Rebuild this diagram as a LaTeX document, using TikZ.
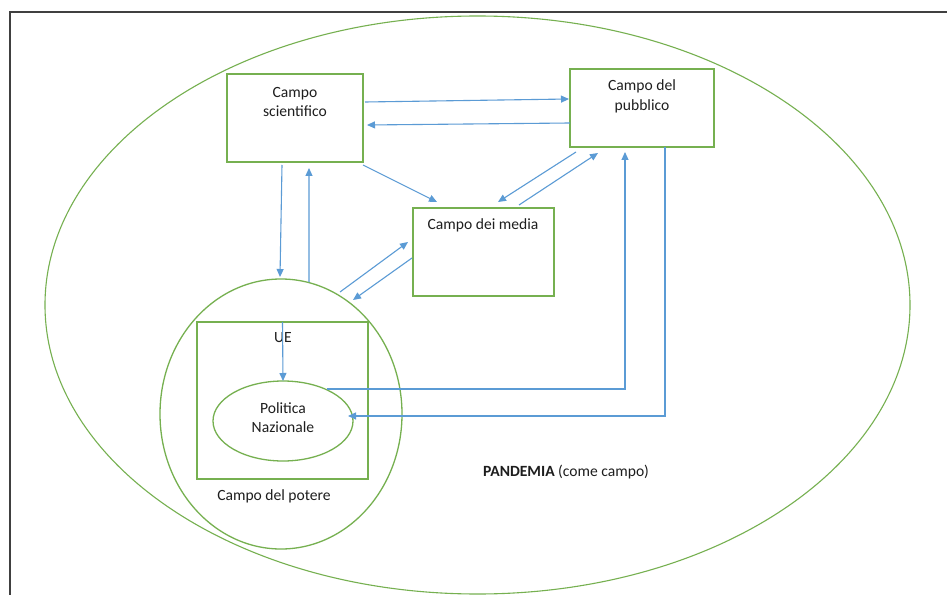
\documentclass[tikz,border=0pt]{standalone}
\usepackage{fontspec}
\setmainfont{Carlito}
\usetikzlibrary{shapes.geometric,arrows.meta,calc}
\definecolor{fgreen}{RGB}{118,176,80}
\definecolor{fblue}{RGB}{91,155,213}
\definecolor{framegray}{RGB}{64,64,64}
\definecolor{ink}{RGB}{30,30,30}
\begin{document}
\begin{tikzpicture}[x=1bp,y=-1bp,
  field/.style={draw=fgreen, line width=1.3bp, inner sep=0pt, outer sep=0pt},
  fieldbox/.style={field, rectangle},
  fieldoval/.style={field, ellipse},
  lbl/.style={text=ink, font=\fontsize{15.6bp}{19.5bp}\selectfont, align=center, inner sep=0pt},
  flow/.style={draw=fblue, line width=1.1bp, -{Triangle[length=8bp,width=7bp]}},
]
\useasboundingbox (0,0) rectangle (947,595);
\fill[white] (0,0) rectangle (947,595);
\draw[draw=framegray, line width=1.3bp] (947,12) -- (10,12) -- (10,595);

% outer field
\node[fieldoval, line width=1.1bp, minimum width=865bp, minimum height=578bp] (pandemia) at (477.5,305) {};

% boxes
\node[fieldbox, minimum width=136bp, minimum height=88bp] (sci) at (295,118) {};
\node[fieldbox, minimum width=144bp, minimum height=78bp] (pub) at (642,108) {};
\node[fieldbox, minimum width=141bp, minimum height=88bp] (media) at (483.5,252) {};
\node[fieldoval, minimum width=242bp, minimum height=270bp] (power) at (281,414) {};
\node[fieldbox, minimum width=171bp, minimum height=157bp] (ue) at (282.5,400.5) {};
\node[fieldoval, minimum width=140bp, minimum height=80bp] (pol) at (283,421) {};

% labels
\node[lbl] (sciT) at (295,102) {Campo\\scientifico};
\node[lbl] (pubT) at (642,96.5) {Campo del\\pubblico};
\node[lbl] (mediaT) at (483,225) {Campo dei media};
\node[lbl] (ueT) at (283,338) {UE};
\node[lbl] (polT) at (283,417.5) {Politica\\Nazionale};
\node[lbl] (powerT) at (274,496) {Campo del potere};
\node[lbl] (pandT) at (566,472) {\textbf{PANDEMIA} (come campo)};

% connectors
\draw[flow] ($(sci.north east)+(2,28)$) -- ($(pub.north west)+(-1,30)$);
\draw[flow] ($(pub.north west)+(0,54)$) -- ($(sci.north east)+(4,51)$);
\draw[flow] ($(sci.south east)+(0,3)$) -- ($(media.north west)+(24,-6)$);
\draw[flow] ($(pub.south west)+(6,5)$) -- ($(media.north west)+(85,-6)$);
\draw[flow] ($(media.north west)+(106,-3)$) -- ($(pub.south west)+(28,6)$);
\draw[flow] ($(sci.south west)+(55,3)$) -- ($(power.north)+(-1,-2)$);
\draw[flow] ($(power.center)+(28,-132)$) -- ($(sci.south west)+(82,6)$);
\draw[flow] ($(power.center)+(59,-122)$) -- ($(media.west)+(-5,-10)$);
\draw[flow] ($(media.west)+(-1,6)$) -- ($(power.center)+(72,-114)$);
\draw[flow] (ue.north) -- (pol.north);
\draw[flow] ($(pol.center)+(44,-32)$) -| ($(pub.south west)+(55,5)$);
\draw[flow] ($(pub.south west)+(95,0)$) |- ($(pol.east)+(-5,-5)$);
\end{tikzpicture}
\end{document}
